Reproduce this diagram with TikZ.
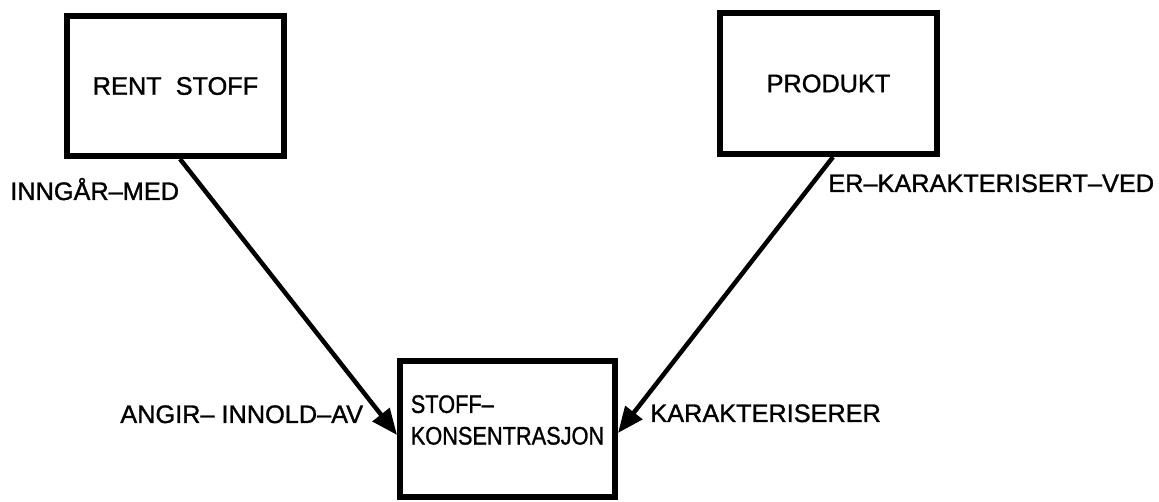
\documentclass[tikz,border=0pt]{standalone}
\usepackage{fontspec}
\setmainfont[FakeBold=1.2]{Liberation Sans}
\usetikzlibrary{arrows.meta}

\begin{document}
\begin{tikzpicture}[x=0.02cm, y=-0.02cm,
  lettering/.style={font=\fontsize{14.4}{18}\selectfont},
  entity/.style={draw, line width=0.12cm, rectangle, inner sep=0pt, lettering},
  rel/.style={line width=0.09cm,
    -{Triangle[length=0.52cm, width=0.42cm]}},
  role/.style={anchor=base west, inner sep=0pt, lettering}]

  % page frame
  \useasboundingbox (0,0) rectangle (1159,502);

  % entity boxes
  \node[entity, minimum width=4.34cm, minimum height=2.80cm] (rs) at (175.5,86) {RENT\ \ STOFF};
  \node[entity, minimum width=4.34cm, minimum height=2.82cm] (pr) at (828.5,83.5) {PRODUKT};
  \node[entity, minimum width=4.30cm, minimum height=2.72cm,
    label={[align=left, inner sep=0pt, yshift=0.18cm, xscale=0.86, transform shape,
      lettering]center:STOFF–\\KONSENTRASJON}] (sk) at (507.5,429) {};

  % relationships
  \draw[rel] ([xshift=0.09cm]rs.south) -- ([yshift=-0.12cm]sk.west);
  \draw[rel] ([xshift=0.09cm]pr.south) -- ([yshift=-0.08cm]sk.east);

  % role names
  \node[role] (l1) at (10,200) {INNGÅR–MED};
  \node[role] (l2) at (828,192) {ER–KARAKTERISERT–VED};
  \node[role] (l3) at (120,423) {ANGIR– INNOLD–AV};
  \node[role] (l4) at (650,422) {KARAKTERISERER};
\end{tikzpicture}
\end{document}
